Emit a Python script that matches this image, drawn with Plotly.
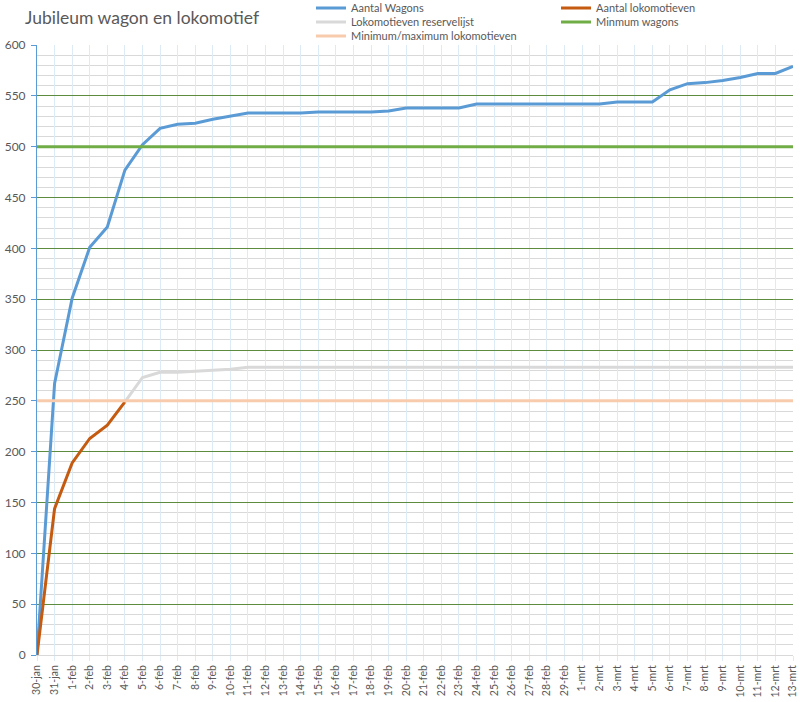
import plotly.graph_objects as go

categories = [
    "30-jan", "31-jan",
    "1-feb", "2-feb", "3-feb", "4-feb", "5-feb", "6-feb", "7-feb", "8-feb", "9-feb", "10-feb",
    "11-feb", "12-feb", "13-feb", "14-feb", "15-feb", "16-feb", "17-feb", "18-feb", "19-feb", "20-feb",
    "21-feb", "22-feb", "23-feb", "24-feb", "25-feb", "26-feb", "27-feb", "28-feb", "29-feb",
    "1-mrt", "2-mrt", "3-mrt", "4-mrt", "5-mrt", "6-mrt", "7-mrt", "8-mrt", "9-mrt", "10-mrt",
    "11-mrt", "12-mrt", "13-mrt",
]

aantal_wagons = [
    0, 267,
    351, 401, 421, 477, 502, 518, 522, 523, 527, 530,
    533, 533, 533, 533, 534, 534, 534, 534, 535, 538,
    538, 538, 538, 542, 542, 542, 542, 542, 542,
    542, 542, 544, 544, 544, 556, 562, 563, 565, 568,
    572, 572, 579,
]

aantal_lokomotieven = [0, 144, 189, 213, 226, 249] + [None] * 38

lokomotieven_reservelijst = [
    None, None,
    None, None, None, 249, 273, 278, 278, 279, 280, 281,
    283, 283, 283, 283, 283, 283, 283, 283, 283, 283,
    283, 283, 283, 283, 283, 283, 283, 283, 283,
    283, 283, 283, 283, 283, 283, 283, 283, 283, 283,
    283, 283, 283,
]

minimum_wagons = [500] * len(categories)
min_max_lokomotieven = [250] * len(categories)

W, H = 801, 702
TXT = "#595959"
FONT = "Lato"

series = [
    ("Aantal Wagons", aantal_wagons, "#5B9BD5", "legend", 311, 8),
    ("Aantal lokomotieven", aantal_lokomotieven, "#C55A11", "legend2", 556, 8),
    ("Lokomotieven reservelijst", lokomotieven_reservelijst, "#D9D9D9", "legend3", 311, 22),
    ("Minmum wagons", minimum_wagons, "#70AD47", "legend4", 556, 22),
    ("Minimum/maximum lokomotieven", min_max_lokomotieven, "#F8CBAD", "legend5", 311, 36),
]

fig = go.Figure()
legend_layouts = {}
for name, vals, color, leg, lx, ly in series:
    fig.add_trace(go.Scatter(
        x=categories, y=vals, name=name, mode="lines",
        line=dict(color=color, width=3), legend=leg,
        connectgaps=False,
    ))
    legend_layouts[leg] = dict(
        xref="container", yref="container",
        x=lx / W, y=1 - ly / H,
        xanchor="left", yanchor="middle",
        bgcolor="rgba(0,0,0,0)", borderwidth=0,
        font=dict(family=FONT, size=11, color=TXT),
        orientation="v",
    )

fig.update_layout(
    width=W, height=H,
    paper_bgcolor="white", plot_bgcolor="white",
    margin=dict(l=37, r=8, t=45, b=47, autoexpand=False),
    title=dict(
        text="Jubileum wagon en lokomotief",
        x=25 / W, xref="container", xanchor="left",
        y=1 - 18 / H, yref="container", yanchor="middle",
        font=dict(family=FONT, size=17.5, color=TXT),
    ),
    showlegend=True,
    **legend_layouts,
)

fig.update_xaxes(
    type="category",
    range=[0, len(categories) - 1],
    tickangle=-90,
    tickfont=dict(family=FONT, size=10.5, color=TXT),
    showgrid=True, gridcolor="#DDEBF7", gridwidth=1,
    ticks="outside", ticklen=5, tickcolor="#DDEBF7",
    showline=True, linecolor="#D9D9D9", linewidth=1,
    zeroline=False,
    dtick=1,
)

fig.update_yaxes(
    range=[0, 600],
    dtick=50,
    tickfont=dict(family=FONT, size=12, color=TXT),
    showgrid=True, gridcolor="#5E8C3E", gridwidth=1,
    minor=dict(dtick=10, showgrid=True, gridcolor="#D9D9D9", gridwidth=1),
    ticks="outside", ticklen=5, tickcolor="#5B9BD5",
    ticklabelstandoff=3,
    showline=True, linecolor="#5B9BD5", linewidth=1,
    zeroline=False,
)

fig.write_html(
    "out.html",
    config={"displayModeBar": False},
    post_script="document.body.style.margin='0';document.body.style.padding='0';",
)
